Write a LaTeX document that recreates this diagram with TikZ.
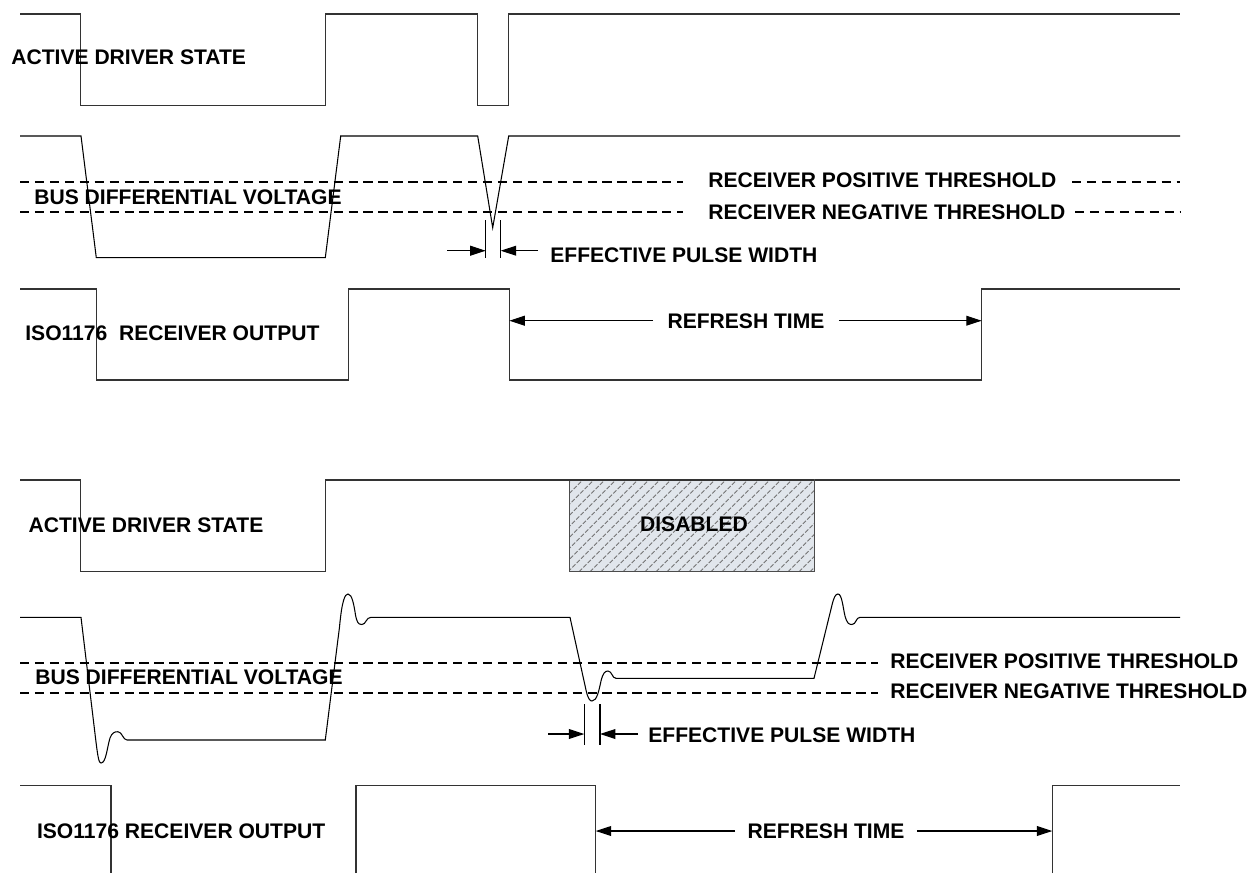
\documentclass[tikz,border=0pt]{standalone}
\usepackage{fontspec}
\setmainfont{Liberation Sans}
\usetikzlibrary{arrows.meta}
\definecolor{disfill}{HTML}{E1E6EC}
\begin{document}
\begin{tikzpicture}[x=0.02cm,y=-0.02cm,
  sig/.style={line width=0.8pt, draw=black!80},
  busw/.style={line width=0.6pt, draw=black},
  thr/.style={line width=1.2pt, dash pattern=on 5.3pt off 3.2pt},
  lbl/.style={font=\fontsize{12}{14}\selectfont\bfseries, inner sep=0pt, anchor=west},
  arr/.style={line width=0.6pt, -{Triangle[length=8.8pt,width=5.6pt]}},
  markl/.style={line width=0.6pt},
  hatchl/.style={draw=black!55, line width=0.5pt, dash pattern=on 2.5pt off 1pt},
  dbox/.style={fill=disfill, draw=black!70, line width=0.6pt}]
\useasboundingbox (0,0) rectangle (1250,873);

%% ================= TOP DIAGRAM =================
% driver
\draw[sig] (20,14) -- (80.7,14) -- (80.7,105.7) -- (325.3,105.7) -- (325.3,14)
  -- (477.7,14) -- (477.7,105.7) -- (508.7,105.7) -- (508.7,14) -- (1180,14);
\node[lbl] (drv1) at (11,57) {ACTIVE DRIVER STATE};

% bus
\draw[busw] (20,136) -- (81,136) -- (96.3,257.7) -- (325.3,257.7) -- (340.7,136)
  -- (477.7,136) -- (492.7,227.7) -- (508.7,136) -- (1180,136);
\node[lbl] (bus1) at (34,197) {BUS DIFFERENTIAL VOLTAGE};
\draw[thr] (20,182.3) -- (683,182.3);
\draw[thr] (1072,182.3) -- (1180,182.3);
\draw[thr] (20,212.3) -- (683,212.3);
\draw[thr] (1075,212.3) -- (1180,212.3);
\node[lbl] (pt1) at (708,180.5) {RECEIVER POSITIVE THRESHOLD};
\node[lbl] (nt1) at (708,212) {RECEIVER NEGATIVE THRESHOLD};

% effective pulse width
\draw[markl] (485.7,220) -- (485.7,258.3);
\draw[markl] (500.7,220) -- (500.7,258.3);
\coordinate (e1l) at (447,250.7);
\coordinate (e1a) at (485.7,250.7);
\coordinate (e1b) at (500.7,250.7);
\node[lbl, inner xsep=0.24cm] (epw1) at (538,255) {EFFECTIVE PULSE WIDTH};
\draw[arr] (e1l) -- (e1a);
\draw[arr] (epw1.west |- e1b) -- (e1b);

% receiver output
\draw[sig] (20,289) -- (96.3,289) -- (96.3,380) -- (348.3,380) -- (348.3,289)
  -- (509.3,289) -- (509.3,380) -- (981.7,380) -- (981.7,289) -- (1180,289);
\node[lbl] (rx1) at (25,333) {ISO1176\ \ RECEIVER OUTPUT};
\node[font=\fontsize{12}{14}\selectfont\bfseries, inner ysep=0pt, inner xsep=0.28cm] (rf1) at (746,321) {REFRESH TIME};
\coordinate (r1l) at (509.3,320.7);
\coordinate (r1r) at (981.7,320.7);
\draw[arr] (rf1.west |- r1l) -- (r1l);
\draw[arr] (rf1.east |- r1r) -- (r1r);

%% ================= BOTTOM DIAGRAM =================
% driver
\draw[sig] (20,480) -- (80.7,480) -- (80.7,571.7) -- (325.3,571.7) -- (325.3,480) -- (1180,480);
\node[lbl] (drv2) at (28.3,525) {ACTIVE DRIVER STATE};
\draw[dbox] (569.3,480) rectangle (814.3,571.7);
\begin{scope}
  \clip (569.3,480) rectangle (814.3,571.7);
  \foreach \i in {0,...,33} \draw[hatchl] ({469+\i*11},571.7) -- ++(100,-100);
\end{scope}
\draw[dbox, fill=none] (569.3,480) rectangle (814.3,571.7);
\draw[sig] (569.3,480) -- (814.3,480);
\node[font=\fontsize{12}{14}\selectfont\bfseries, inner sep=0pt] (dis) at (694,524) {DISABLED};

% bus
\draw[busw] (20,617.3) -- (81,617.3) -- (96,742)
  .. controls (98,758) and (99,763) .. (101,763)
  .. controls (106,763) and (107,748) .. (110,738)
  .. controls (112,733) and (114,731.7) .. (118,731.7)
  .. controls (122,731.7) and (123,740) .. (127,740)
  -- (325.3,740) -- (339.5,627)
  .. controls (342,600) and (345,594) .. (348,594)
  .. controls (352,594) and (354,605) .. (355.5,615)
  .. controls (357,622) and (358,624.5) .. (362,624.5)
  .. controls (366,624.5) and (366,617.3) .. (371,617.3)
  -- (570,617.3) -- (586,690)
  .. controls (588,699) and (590,701) .. (592,701)
  .. controls (597,701) and (599,690) .. (601,681)
  .. controls (603,673) and (605,671) .. (608,671)
  .. controls (612,671) and (612,678.3) .. (616,678.3)
  -- (814,678.3) -- (832,605)
  .. controls (834,597) and (835.5,594) .. (838,594)
  .. controls (842,594) and (843,608) .. (845,616)
  .. controls (847,623) and (848.5,624.5) .. (852,624.5)
  .. controls (856,624.5) and (856,617.3) .. (860,617.3)
  -- (1180,617.3);
\node[lbl] (bus2) at (35,677) {BUS DIFFERENTIAL VOLTAGE};
\draw[thr] (20,663) -- (878,663);
\draw[thr] (20,693) -- (878,693);
\node[lbl] (pt2) at (890,661) {RECEIVER POSITIVE THRESHOLD};
\node[lbl] (nt2) at (890,691) {RECEIVER NEGATIVE THRESHOLD};

% effective pulse width
\draw[markl] (584.3,704) -- (584.3,745);
\draw[markl] (600,704) -- (600,745);
\coordinate (e2l) at (548,734);
\coordinate (e2a) at (584.3,734);
\coordinate (e2b) at (600,734);
\node[lbl, inner xsep=0.2cm] (epw2) at (638,735) {EFFECTIVE PULSE WIDTH};
\draw[arr] (e2l) -- (e2a);
\draw[arr] (epw2.west |- e2b) -- (e2b);

% receiver output
\draw[sig] (20,785.7) -- (111,785.7) -- (111,873);
\draw[sig] (356,873) -- (356,785.7) -- (595.7,785.7) -- (595.7,873);
\draw[sig] (1052.3,873) -- (1052.3,785.7) -- (1180,785.7);
\node[lbl] (rx2) at (36.7,831.7) {ISO1176 RECEIVER OUTPUT};
\node[font=\fontsize{12}{14}\selectfont\bfseries, inner ysep=0pt, inner xsep=0.24cm] (rf2) at (826,831) {REFRESH TIME};
\coordinate (r2l) at (595.7,831);
\coordinate (r2r) at (1052.3,831);
\draw[arr] (rf2.west |- r2l) -- (r2l);
\draw[arr] (rf2.east |- r2r) -- (r2r);
\end{tikzpicture}
\end{document}
